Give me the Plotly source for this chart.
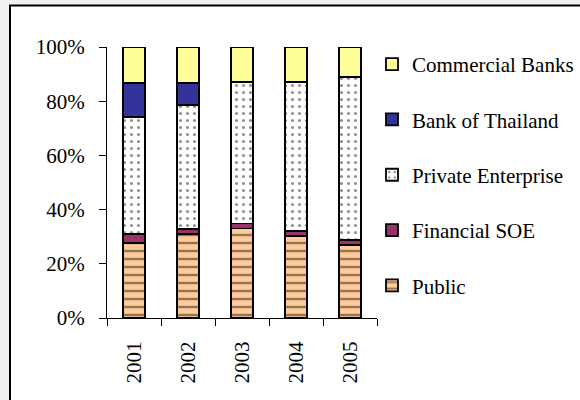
import plotly.graph_objects as go

years = ["2001", "2002", "2003", "2004", "2005"]
public = [27.6, 31.0, 33.0, 30.4, 26.9]
financial_soe = [3.4, 1.8, 1.9, 1.7, 1.9]
private_ent = [43.3, 45.8, 52.1, 54.9, 60.1]
bank_of_thailand = [12.3, 8.2, 0.0, 0.0, 0.0]
commercial_banks = [13.4, 13.2, 13.0, 13.0, 11.1]
y_ticks = [0, 20, 40, 60, 80, 100]
y_tick_labels = ["0%", "20%", "40%", "60%", "80%", "100%"]

FONT = "Liberation Serif"

series = [
    ("Public", public, dict(color="#FFCC99", pattern=dict(shape="-", size=8, solidity=0.3, fgcolor="#2a1e18", bgcolor="#FFCC99"))),
    ("Financial SOE", financial_soe, dict(color="#993366")),
    ("Private Enterprise", private_ent, dict(color="#FFFFFF", pattern=dict(shape=".", size=7, solidity=0.16, fgcolor="#222222", bgcolor="#FFFFFF"))),
    ("Bank of Thailand", bank_of_thailand, dict(color="#333399")),
    ("Commercial Banks", commercial_banks, dict(color="#FFFF99")),
]

fig = go.Figure()
n = len(series)
for i, (name, vals, mk) in enumerate(series):
    mk = dict(mk)
    mk["line"] = dict(color="black", width=1.8)
    fig.add_trace(go.Bar(x=years, y=vals, name=name, marker=mk,
                         legendgroup=f"g{i}", legendrank=n - i))

L, T = 107, 46.5
W, H = 270, 271.5
R = 580 - L - W
B = 400 - T - H

def px_x(p):
    return (p - L) / W

def px_y(p):
    return (T + H - p) / H

fig.add_shape(type="rect", xref="paper", yref="paper",
              x0=px_x(10), x1=px_x(600), y0=px_y(420), y1=px_y(5),
              line=dict(color="black", width=2), fillcolor="white", layer="below")

fig.update_layout(
    width=580, height=400,
    margin=dict(l=L, r=R, t=T, b=B, autoexpand=False),
    paper_bgcolor="#F0F0F0",
    plot_bgcolor="rgba(0,0,0,0)",
    barmode="stack",
    bargap=0.58,
    font=dict(family=FONT, size=21, color="black"),
    showlegend=True,
    legend=dict(
        x=px_x(372), xanchor="left",
        yref="container", y=1 - 44 / 400, yanchor="top",
        traceorder="grouped", tracegroupgap=25, maxheight=1000,
        font=dict(family=FONT, size=21, color="black"),
        bgcolor="rgba(0,0,0,0)", itemwidth=30,
    ),
    xaxis=dict(
        type="category", showline=True, linecolor="black", linewidth=1,
        ticks="outside", ticklen=7, tickcolor="black", tickson="boundaries",
        tickangle=-90, showgrid=False, ticklabelstandoff=14, automargin=False,
        tickfont=dict(family=FONT, size=21),
    ),
    yaxis=dict(
        range=[0, 100], tickvals=y_ticks, ticktext=y_tick_labels,
        showline=True, linecolor="black", linewidth=1,
        ticks="outside", ticklen=7, tickcolor="black", automargin=False,
        showgrid=False, zeroline=False, ticklabelstandoff=10,
        tickfont=dict(family=FONT, size=21),
    ),
)

fig.write_html(
    "out.html",
    config={"displayModeBar": False},
    post_script="document.body.style.margin='0';document.body.style.background='#F0F0F0';",
)
